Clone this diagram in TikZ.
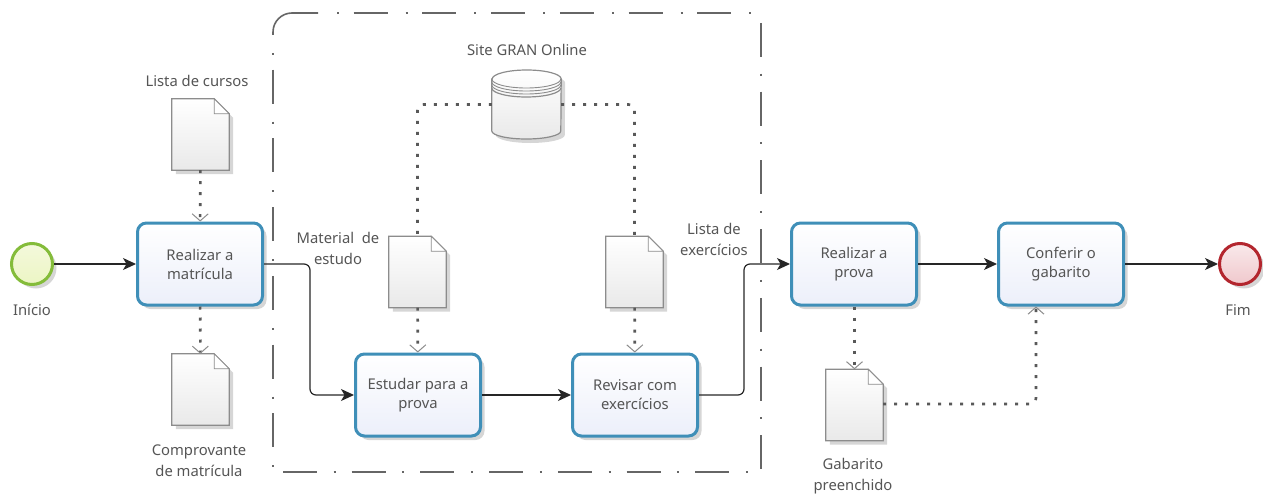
\documentclass[tikz,border=0pt]{standalone}
\usepackage{fontspec}
\setmainfont{Noto Sans}
\usetikzlibrary{arrows.meta,shadows}

\definecolor{taskline}{HTML}{3F8FB8}
\definecolor{tasklow}{HTML}{ECEFFA}
\definecolor{startline}{HTML}{84BC3A}
\definecolor{startlow}{HTML}{ECF5C4}
\definecolor{endline}{HTML}{B3262E}
\definecolor{endlow}{HTML}{F0C8CC}
\definecolor{labeltext}{HTML}{555555}
\definecolor{pageline}{HTML}{8C8C8C}
\definecolor{pagelow}{HTML}{E9E9E9}

\tikzset{
  softshadow/.style={drop shadow={shadow xshift=4pt,shadow yshift=-4pt,opacity=.16,fill=black}},
  flow/.style={draw=black!85,line width=1.2pt,rounded corners=6pt,-{Stealth[length=13pt,width=12pt,inset=3.5pt]}},
  assoc/.style={draw=black!65,line width=2.6pt,dash pattern=on 3pt off 8pt,rounded corners=6pt},
  assocto/.style={assoc,-{Straight Barb[length=7pt,width=16pt,line width=1pt,color=black!45]}},
  groupline/.style={draw=black!60,line width=1.6pt},
  dotfirst/.style={groupline,dash pattern=on 2pt off 14.7pt on 34pt off 18pt},
  dashfirst/.style={groupline,dash pattern=on 34pt off 16.7pt on 2pt off 16pt},
}

\newcommand{\docpage}[1]{
  \path[draw=pageline,line width=1.2pt,top color=white,bottom color=pagelow,softshadow]
    (#1.south west) -- (#1.north west) -- ([xshift=-15pt]#1.north east)
    -- ([yshift=-15pt]#1.north east) -- (#1.south east) -- cycle;
  \draw[pageline,line width=.8pt,fill=white] ([xshift=-15pt]#1.north east)
    -- ([xshift=-15pt,yshift=-15pt]#1.north east) -- ([yshift=-15pt]#1.north east) -- cycle;
}

\begin{document}
\begin{tikzpicture}[x=1pt,y=-1pt]

        \useasboundingbox (0,0) rectangle (1263,495);

        % group
        \draw[groupline] (318,13) -- (292,13) arc (270:180:19) -- (273,35);
        \draw[dotfirst]  (337,13) -- (752,13);
        \draw[dotfirst]  (273,53) -- (273,470);
        \draw[dashfirst] (761,23) -- (761,469);
        \draw[dashfirst] (283,472) -- (750,472);

        % events and tasks
        \begin{scope}[every node/.style={circle,line width=3pt,minimum size=41pt,inner sep=0pt,softshadow}]
          \node[draw=startline,top color=startlow!60,bottom color=startlow] (inicio) at (32,264) {};
          \node[draw=endline,top color=endlow!40,bottom color=endlow]       (fim)    at (1240,264) {};
        \end{scope}

        \begin{scope}[every node/.style={draw=taskline,line width=3pt,rounded corners=9pt,
            minimum width=125pt,minimum height=82pt,inner sep=0pt,align=center,
            top color=white,bottom color=tasklow,softshadow,text=labeltext,
            font=\fontsize{14.8}{19}\selectfont}]
          \node (matricula) at (200,264)  {Realizar a\\matrícula};
          \node (estudar)   at (418,395)  {Estudar para a\\prova};
          \node (revisar)   at (635,395)  {Revisar com\\exercícios};
          \node (realizar)  at (854,264)  {Realizar a\\prova};
          \node (conferir)  at (1061,264) {Conferir o\\gabarito};
        \end{scope}

        % documents
        \begin{scope}[every node/.style={minimum width=57pt,minimum height=71pt,inner sep=0pt}]
          \node (cursos)      at (200.5,134.5) {};
          \node (comprovante) at (200.5,389.5) {};
          \node (material)    at (417.5,272)   {};
          \node (exercicios)  at (634.5,272)   {};
          \node (gabarito)    at (854.5,405)   {};
        \end{scope}
        \docpage{cursos}
        \docpage{comprovante}
        \docpage{material}
        \docpage{exercicios}
        \docpage{gabarito}

        % data store
        \node[minimum width=69pt,minimum height=69pt,inner sep=0pt] (site) at (526.5,104.5) {};
        \path[draw=pageline,line width=1.2pt,top color=white,bottom color=pagelow,softshadow]
          (site.west |- 0,79) -- (site.west |- 0,131) arc (180:0:34.5 and 8) -- (site.east |- 0,79)
          arc (0:-180:34.5 and 9) -- cycle;
        \draw[pageline,line width=.9pt]
          (site.west |- 0,79) arc (180:0:34.5 and 9)
          (site.west |- 0,82) arc (180:0:34.5 and 9)
          (site.west |- 0,85) arc (180:0:34.5 and 9);
        \draw[pageline,line width=1.2pt] (site.west |- 0,88) arc (180:0:34.5 and 9);

        \coordinate (bendone) at (310,330);
        \coordinate (bendtwo) at (744,330);
        \coordinate (leftup)  at (417.5,104.5);
        \coordinate (rightup) at (634.5,104.5);
        \coordinate (lowcorner) at (1036,404);

        % sequence flows
        \path[flow] (inicio) -- (matricula);
        \path[flow] (matricula.east) -| (bendone) |- (estudar.west);
        \path[flow] (estudar) -- (revisar);
        \path[flow] (revisar.east) -| (bendtwo) |- (realizar.west);
        \path[flow] (realizar) -- (conferir);
        \path[flow] (conferir) -- (fim);

        % associations
        \path[assocto] (cursos) -- (matricula);
        \path[assocto] (matricula) -- (comprovante);
        \path[assocto] (material) -- (estudar);
        \path[assocto] (exercicios) -- (revisar);
        \path[assocto] (realizar.south -| gabarito) -- (gabarito);
        \path[assoc] (site.west) -- (leftup) -- (material.north);
        \path[assoc] (site.east) -- (rightup) -- (exercicios.north);
        \path[assocto] (gabarito.east |- lowcorner) -- (lowcorner) -- (conferir.south -| lowcorner);

        % labels
        \begin{scope}[every node/.style={align=center,inner sep=0pt,text=labeltext,
            font=\fontsize{14.8}{21}\selectfont}]
          \node (tinicio)      at (32,310)    {Início};
          \node (tfim)         at (1238,310)  {Fim};
          \node (tcursos)      at (197,81)    {Lista de cursos};
          \node (tcomprovante) at (199,461)   {Comprovante\\de matrícula};
          \node (tsite)        at (527,50)    {Site GRAN Online};
          \node (tmaterial)    at (338,248)   {Material\ \ de\\estudo};
          \node (texercicios)  at (714,239)   {Lista de\\exercícios};
          \node (tgabarito)    at (853,476)   {Gabarito\\preenchido};
        \end{scope}

      \end{tikzpicture}
\end{document}
